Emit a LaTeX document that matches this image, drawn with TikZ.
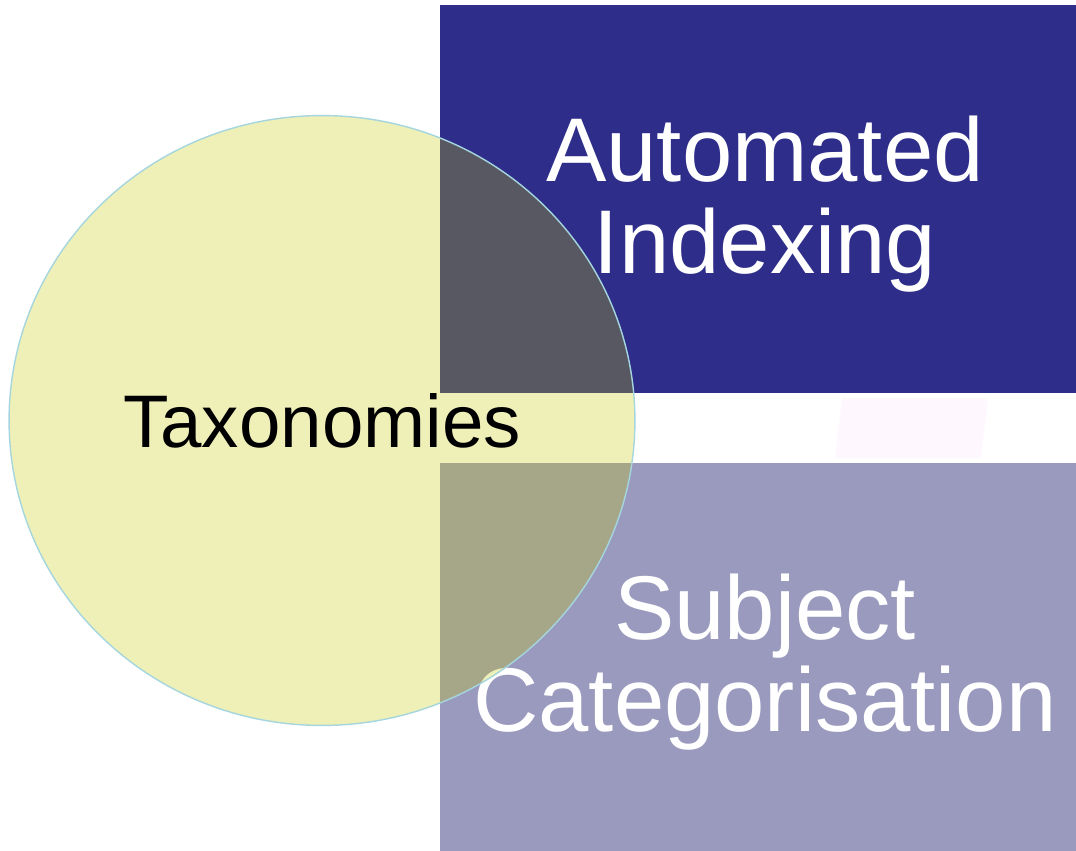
\documentclass[tikz,border=0pt]{standalone}
\usepackage{fontspec}
\setmainfont{Liberation Sans}
\usepackage{tikz}
\usetikzlibrary{shapes.geometric}
\definecolor{indexblue}{RGB}{46,46,138}
\definecolor{catlilac}{RGB}{154,154,190}
\definecolor{taxolive}{RGB}{198,198,0}
\definecolor{taxrim}{RGB}{165,214,222}
\definecolor{markpink}{RGB}{254,247,254}

\begin{document}
\begin{tikzpicture}[x=0.02cm, y=-0.02cm, every text node part/.style={align=center},
        label text/.style={text=white, font=\fontsize{51.5}{52.7}\selectfont},
        venn/.style={ellipse, inner sep=0pt, minimum width=12.52cm, minimum height=12.2cm,
            draw=taxrim, line width=0.8pt, fill=taxolive, fill opacity=0.28, text opacity=1,
            font=\fontsize{42.4}{48}\selectfont}]
        \useasboundingbox (0,0) rectangle (1076,851);
        % faint mark in the gap
        \fill[markpink] (842,398) -- (988,398) -- (981,458) -- (835,458) -- cycle;
        \fill[indexblue] (440,5) rectangle (1076,393);
        \fill[catlilac] (440,463) rectangle (1076,851);
        \node[label text] (idx) at (765,204) {Automated\\Indexing};
        \node[label text] (cat) at (765,662) {Subject\\Categorisation};
        \node[venn] (tax) at (322,420.5) {Taxonomies};
    \end{tikzpicture}
\end{document}
